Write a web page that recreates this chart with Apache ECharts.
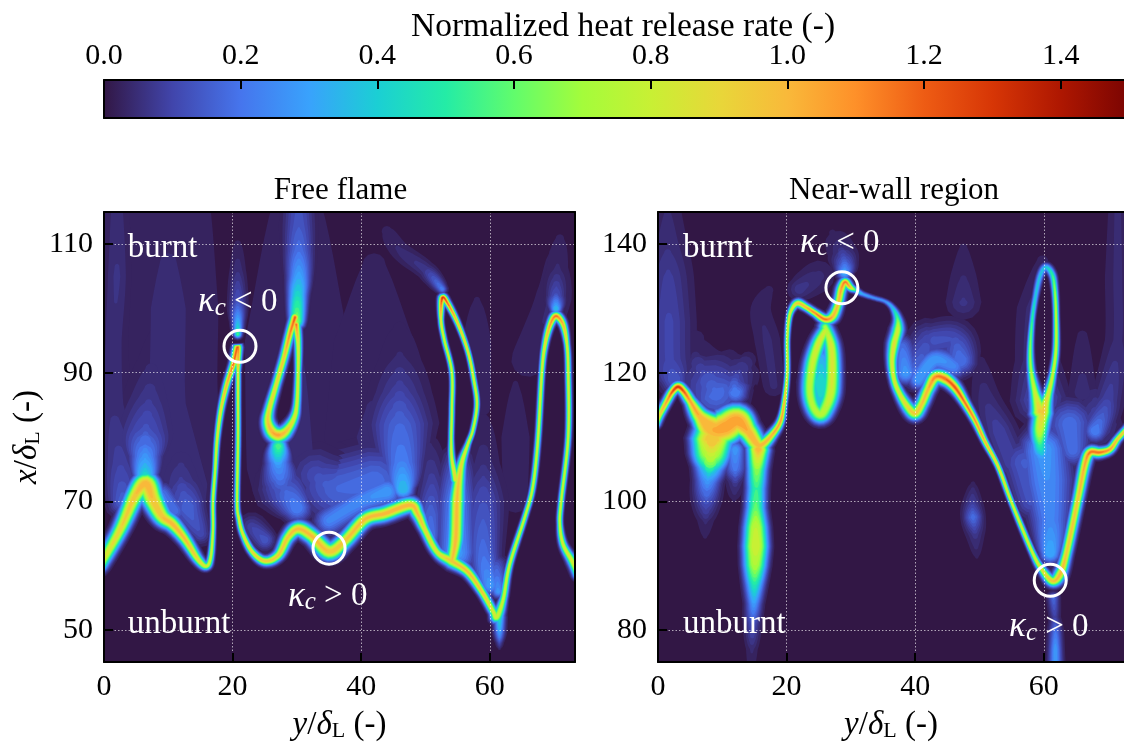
<!DOCTYPE html>
<html><head><meta charset="utf-8">
<style>html,body{margin:0;padding:0;background:#fff}#c{width:1124px;height:742px}</style>
<script src="https://cdn.jsdelivr.net/npm/echarts@6/dist/echarts.min.js"></script>
</head><body><div id="c"></div>
<script>
// Colour scale
const scaleValues=[0,.1,.2,.3,.4,.5,.6,.7,.8,.9,1,1.1,1.2,1.3,1.4,1.5];
const scaleColors=['#321745','#4145ab','#4675ed','#39a2fc','#1bcfd4','#24eca6','#61fc6c','#a4fc3b','#c8f034','#e8d739','#f9b93a','#fe9029','#ee5c14','#d73606','#ae1701','#7a0402'];
const contourLevels=[.025,.045,.065,.085,.105,.13,.155,.18,.21,.24,.27,.3,.34,.38,.42,.46,.5,.55,.6,.65,.7,.75,.8,.85,.9,.95,1,1.05,1.1,1.15,1.2,1.25,1.3,1.35,1.4];
const colorbarTicks=[.2,.4,.6,.8,1,1.2,1.4];
const colorbarLabels=[0,.2,.4,.6,.8,1,1.2,1.4];
const ticksX=[20,40,60], labelsX=[0,20,40,60];
const freeTicksY=[50,70,90,110], wallTicksY=[80,100,120,140];

// Ridges of heat release: [y, x, heat release, flame thickness]  (all in axis units)
const freeMain=[[-.6,60,.85,.55],[2.5,65.6,.95,.6],[4.8,70.8,1,.7],[6.5,72.7,1.05,.85],[7.6,70.3,1,.8],[9,67.7,1,.7],[10.7,66.4,1.05,.6],[12.6,64.1,1.03,.5],[14.6,61,.95,.4],[15.9,59.9,.85,.33],[16.6,61.3,.85,.25],[16.95,65.6,.85,.2],[16.95,70,.85,.2],[17.3,75,.85,.2],[17.6,79.7,.9,.22],[18.2,84.3,.95,.25],[19.1,88.2,1.05,.28],[20.1,91.3,1.2,.3],[20.8,94,1.25,.35],[20.85,90.2,.95,.2],[20.85,85.9,.88,.2],[20.85,79.7,.85,.2],[20.7,70,.85,.2],[21,67.2,.88,.22],[21.6,64.9,.92,.25],[23,62.2,.95,.3],[25,60.7,.98,.38],[27.1,61.6,.98,.42],[28.6,64.4,1,.5],[30.2,65.7,1.02,.6],[32.3,64.6,1.02,.6],[35,62.2,1,.7],[37.5,63.9,1,.6],[40.6,67.2,1.02,.6],[43.7,68.1,1.05,.6],[47.6,69.4,1.05,.6],[48.8,68,1.02,.5],[49.9,65.6,.95,.4],[51.8,62.1,.9,.4],[54.1,60.7,1,.55],[56.6,59,1.02,.42],[58.8,55.9,1,.35],[60.5,52.9,.9,.35],[61.1,52,.85,.5],[62.1,54.8,.85,.3],[63.1,60.2,.85,.25],[65.5,67.7,.85,.22],[66.7,72.3,.85,.22],[67.5,79.7,.85,.22],[68.1,90.1,.88,.22],[68.6,94.4,.95,.25],[69.4,97.5,1.1,.3],[70.3,98.8,1.2,.38],[71.4,97.5,1.05,.3],[72,94.4,.9,.22],[72.2,90.1,.88,.22],[72.2,80,.85,.22],[71.1,70,.85,.22],[70.9,66.4,.85,.22],[71.4,63.3,.88,.3],[72.8,60.7,.88,.4],[73.7,58.6,.85,.4]];
const freeStem=[[54.1,60.7,1,.5],[54.7,64.1,1.03,.6],[54.9,70,1.02,.6],[55.2,73.4,1,.5],[55.7,76.2,.92,.35],[56.6,78.9,.88,.22],[57.4,81.2,.85,.2],[58,85.1,.88,.2],[57.5,89,.9,.2],[56.6,93.3,.95,.2],[55.1,97.5,1,.22],[53.5,100.7,1.2,.25],[52.6,101.6,1.35,.3],[52.4,98.3,.95,.2],[52.9,95.2,.88,.2],[54.1,90.1,.85,.2],[54.1,84.3,.85,.2],[54,79.7,.85,.2],[54.1,76.6,.9,.25],[54.7,73.4,.95,.4]];
const freeHairpin=[[29.7,98.6,1.25,.4],[28.9,96,1.15,.35],[28,92.4,1,.35],[26.8,88.2,.95,.35],[25.7,84.3,.95,.4],[25.5,82.4,1,.5],[26.1,80.9,1.05,.6],[27.1,80.3,1.08,.65],[28.3,80.9,1,.55],[29.5,82.8,.9,.4],[30,85.1,.88,.3],[30.2,90.2,.88,.25],[30.2,94.4,.9,.3],[29.9,97.5,1.2,.35]];
const freeTipBelow=[[61.5,52,.5,.45],[61.5,49.5,.3,.45],[61.5,48,.12,.35],[61.5,47,.02,.3]];
const freeWash=[
 [[10,118,.04,7],[10,100,.05,7],[10,85,.05,7],[12,72,.06,6]],
 [[30,118,.03,6],[30,95,.045,8],[30,75,.05,7]],
 [[42,112,.02,4],[42,95,.04,7],[42,80,.05,7]],
 [[58,104,.02,3],[58,95,.035,3],[58,85,.035,3]],
 [[64,92,.02,2.5],[64,80,.035,3],[64,70,.04,2]],
 [[70,110,.02,2.5],[70,102,.05,2.5],[66,92,.04,3]],
 [[2,118,.05,1.6],[2,105,.07,1.6],[1.5,95,.06,1.8],[1.5,85,.06,2.2],[2.5,76,.1,2.2],[3,70,.18,1.5]],
 [[6.4,74,.45,1],[6.4,77,.28,1.5],[6.5,81,.14,2.8],[7,86,.08,2.8],[7.5,92,.04,2.5],[8,98,.02,2]],
 [[12,76,.06,2.5],[12,73,.09,2.5],[13,69,.18,1.8],[15,65,.12,1.2]],
 [[9,71,.22,1.2],[11,68.5,.2,1.2]],
 [[20.8,96,.6,.4],[20.8,98,.35,.6],[20.8,101,.14,.9],[20.8,106,.06,1],[20.8,111,.02,1]],
 [[30,98,.7,.7],[30.1,102,.45,.9],[30.3,105,.32,1.1],[30.3,109,.2,1.4],[30.3,113,.15,1.6],[30.3,118,.12,1.6]],
 [[27.1,78.5,.6,.8],[27.1,76,.3,1.2],[27.5,73,.18,2]],
 [[28,72,.16,2.5],[30,69,.25,1.4]],
 [[23,66,.1,1.4],[25,64,.15,1.1]],
 [[33,74,.12,3],[36,72,.18,3.5],[42,73,.2,3.5]],
 [[35,67,.25,1.4],[40,70,.26,1.4],[44,71.5,.3,1.4]],
 [[46.5,72,.4,1],[46.3,76,.24,2],[46,82,.18,3],[46,87,.1,3],[46,92,.05,3],[46,98,.02,3]],
 [[51,64,.22,.8],[50.8,68,.18,1.4],[51,73,.1,1.6],[50.5,80,.03,1.6]],
 [[54.8,62,.3,1.8],[54.8,70,.25,1.8],[55,76,.15,1.6]],
 [[59,84,.02,2],[59,76,.06,2],[59,70,.13,2.2],[59,62,.2,1.6],[60,57,.3,1]],
 [[61.3,56,.3,.7],[61,60,.15,1.1]],
 [[70.3,100,.4,.6],[70.3,102,.14,1],[70.5,106,.05,1.5],[71,112,.02,2]],
 [[52.6,103,.25,.5],[50,106,.08,1],[46,109,.05,1.3],[44,112,.03,1.6]]
];
const wallMain=[[-.3,112.1,.9,.35],[.3,113.5,.95,.35],[1.4,115.6,1.1,.35],[2.2,117,1.25,.35],[3.1,117.8,1.35,.4],[4,117.1,1.25,.4],[5,115.6,1.1,.45],[6.5,113.2,1.05,.7],[8.6,111.2,1.05,1.2],[10.4,111.5,1.08,1.2],[12.3,112.5,1.08,1.1],[14,110.9,1.05,.8],[15.4,108.9,1.05,.7],[16.3,108.9,1.05,.55],[17.7,110.3,1.05,.4],[19,112.3,1.1,.3],[19.6,115.1,1.05,.22],[20.1,119.8,.9,.2],[20.1,125.2,.85,.2],[20.4,128.6,.88,.22],[21,130.2,.9,.28],[21.8,130.8,1,.35],[23,130.2,1.05,.3],[24.4,129.3,1.15,.3],[26,128.3,1.2,.38],[27.2,128.8,1.05,.45],[28,130.7,1,.4],[28.5,133,1.1,.4],[29.1,134.1,1.2,.35],[29.9,133.3,1.05,.3],[30.8,132.8,.5,.25],[31.9,132.2,.33,.22],[33.7,131.6,.28,.2],[35.3,131.1,.28,.2],[36.4,130.2,.38,.25],[37.2,128.6,.6,.35],[37.3,126.8,.85,.5],[36.7,124.4,.92,.5],[36.4,121.8,.9,.4],[36.7,119,.9,.35],[37.6,116.7,.9,.4],[38.9,114.6,.95,.5],[40,113.7,1,.55],[41,115.1,1,.5],[42,117.4,1.05,.5],[43.1,119.3,1.15,.55],[44.6,119.1,1.2,.55],[46.2,117.7,1.25,.45],[47.7,115.4,1.2,.35],[49.3,112.6,1.12,.3],[50.9,109.2,1.05,.25],[52.9,105.4,.95,.22],[55,99.8,.88,.22],[58.2,92.1,.88,.25],[59.7,89.4,.92,.32],[61.3,87.6,1,.45],[62.5,88.6,1.05,.5],[63.5,91.8,1,.42],[65.3,100.3,1,.42],[66.4,105.8,1.08,.45],[67.2,107.6,1.2,.45],[68.7,107.6,1.2,.4],[70.3,108.1,1.1,.35],[71.5,109.7,1,.3],[73.1,111.5,.95,.3]];
const wallLeftLobe=[[8.4,109.5,1,1.4],[8.2,107,.75,1.3],[8,105,.45,1.1],[7.7,103,.28,1],[7.5,100,.14,1.1],[7.4,97,.05,1],[7.3,94,.02,.8]];
const wallRightLobe=[[15.6,108,1.05,.8],[15.4,105,.7,.75],[15.3,102,.55,.75],[15.2,99,.62,.75],[15.2,96,.8,.85],[15.2,93,.85,.9],[15.1,90,.75,.85],[15,87,.5,.75],[14.9,84,.3,.65],[14.7,81,.14,.7],[14.6,77,.05,.7],[14.5,74,.03,.7]];
const wallBetweenLobes=[[12,108,.3,.8],[12,105,.22,.9],[12,103,.08,.9],[11.8,100,.02,.8]];
const wallRingA=[[26,127.1,.75,.55],[26.9,124.4,.88,.6],[27.1,121.3,.88,.65],[26.9,117.1,.85,.7],[26.1,114.6,.8,.7],[25.2,113.5,.78,.7],[24.1,114.8,.78,.65],[23.6,117.4,.78,.65],[24,121.3,.82,.65],[24.9,124.4,.88,.6],[26,126.5,.85,.55]];
const wallRingACore=[[25.3,122,.35,1],[25.3,118.5,.45,1.3],[25.3,115,.4,1]];
const wallRingB=[[59.4,114,.98,.75],[58.6,117.1,.85,.45],[58,120.5,.75,.3],[57.9,124,.7,.25],[58.2,128.3,.55,.22],[58.7,131.8,.42,.25],[59.4,135,.4,.3],[60.3,136.4,.4,.35],[61.3,135.3,.55,.3],[61.7,133,.7,.25],[61.9,129.1,.82,.22],[61.9,123.7,.85,.25],[61.4,119.8,.85,.28],[60.7,116.7,.9,.4],[59.9,114,.98,.7],[59.4,111.2,.85,.7],[59.4,108.9,.55,.7],[59.7,107.3,.35,.9]];
const wallTipBelow=[[61.5,85,.2,.5],[61.7,82,.1,.5],[61.8,80,.2,.55],[61.8,77,.3,.55],[61.8,74,.3,.6]];
const wallSmallBlob=[[49,103,.02,.6],[48.9,99.5,.1,.9],[49,97.5,.2,.8],[49.3,95,.08,.9],[49.6,91,.02,.6]];
const wallWash=[
 [[1.5,147,.04,1.8],[1.5,140,.06,2.5],[1.6,135,.09,2.5],[1.7,128,.11,2.5],[1.8,122,.11,2.5],[2.5,119,.16,1.5]],
 [[6,126,.02,3.5],[6,122,.05,4],[9,117,.2,2.8]],
 [[12,117,.25,1.2],[12,119,.12,2],[14,122,.03,2.5]],
 [[18,118,.05,1.5],[17,125,.05,1.8],[16,130,.04,1.8],[18,134,.02,2]],
 [[29,135.5,.35,.7],[29,137,.18,1.1],[28.5,139,.07,1.6],[27,142,.02,2.2]],
 [[22,133,.08,1.3],[25,135,.05,2.2]],
 [[38,124,.2,1.2],[38.5,120,.3,1.1]],
 [[42,125,.12,2],[40,120,.2,1.5]],
 [[43,125,.14,1.8],[46,125,.13,2],[47,122,.22,1.5]],
 [[47.5,131,.07,2],[47.5,136,.04,2],[47.5,141,.02,1.5]],
 [[40.5,119,.3,1],[43,122,.3,1.1],[46,121,.25,1.2]],
 [[60,139,.02,1.5],[59,130,.06,2.5],[59,122,.07,2.5],[59.5,116,.15,2.5]],
 [[60,108,.3,2.2],[60.5,103,.27,2.4],[61,97,.25,1.9],[61,92,.35,1]],
 [[57,106,.16,2.4],[58,100,.14,1.8]],
 [[64,112,.2,2.4],[64.5,108,.2,1.6]],
 [[68,112,.12,2.4],[68,116,.06,2.2]],
 [[55,106,.1,2],[53,111,.1,1.8],[51,116,.06,1.8],[50,123,.02,1.5]],
 [[71.5,147,.05,1.2],[71.5,135,.05,1.8],[71.5,125,.05,1.8],[70,116,.1,1.6],[68,111,.25,1.1]],
 [[66,128,.02,1.5],[66,117,.06,1.8]]
];
// Field layers: wash only exists on the burnt side of the front (outside loop interiors)
const freeField={wash:freeWash,front:freeMain,frontClose:[[73.7,122],[-.6,122]],holes:[freeStem,freeHairpin],flames:[freeMain,freeStem,freeHairpin,freeTipBelow]};
const wallField={wash:wallWash,front:wallMain,frontClose:[[73.1,152],[-.3,152]],holes:[wallRingB.slice(0,15)],flames:[wallLeftLobe,wallRightLobe,wallBetweenLobes,wallSmallBlob,wallTipBelow,wallRingACore,wallRingA,wallRingB,wallMain]};

// Annotations
const freeMarks=[[21.15,94.1],[35,62.7]], wallMarks=[[28.6,133.2],[61,87.7]];
const freeNotes=[[3.7,109.4,'burnt'],[3.7,50.9,'unburnt'],[14.6,101,'neg'],[28.6,55.2,'pos']];
const wallNotes=[[3.9,139.4,'burnt'],[3.9,80.9,'unburnt'],[22.1,140.2,'neg'],[54.6,80.4,'pos']];

const FONT='"Liberation Serif",serif', FS=30, NS=33, FLAME_SPREAD=1.2;
function rgb(h){return [1,3,5].map(i=>parseInt(h.substr(i,2),16));}
function colorAt(v){
  for(let i=1;i<scaleValues.length;i++) if(v<=scaleValues[i]){
    const t=(v-scaleValues[i-1])/(scaleValues[i]-scaleValues[i-1]),a=rgb(scaleColors[i-1]),b=rgb(scaleColors[i]);
    return 'rgb('+a.map((c,k)=>Math.round(c+(b[k]-c)*t)).join(',')+')';
  }
  return scaleColors[scaleColors.length-1];
}
function halfWidth(p,l,s,u){
  if(p<=l) return 0;
  const t=Math.max(0,Math.min(1,(s-.5)/.5))*Math.min(1,p/.6), e=.58-.25*t, k=1.33+.42*t;
  return s*u*k*Math.pow(Math.log(p/l),e);
}
// pixel-space smooth path through one ridge (drawing only, like a smoothed line)
function smoothRidge(r,api){
  const P=r.map(d=>{const c=api.coord([d[0],d[1]]);return [c[0],c[1],d[2],d[3]];});
  const out=[],N=8;
  for(let i=0;i<P.length-1;i++){
    const p0=P[Math.max(0,i-1)],p1=P[i],p2=P[i+1],p3=P[Math.min(P.length-1,i+2)];
    for(let j=0;j<N;j++){
      const t=j/N,t2=t*t,t3=t2*t;
      const f=k=>.5*(2*p1[k]+(p2[k]-p0[k])*t+(2*p0[k]-5*p1[k]+4*p2[k]-p3[k])*t2+(3*p1[k]-p0[k]-3*p2[k]+p3[k])*t3);
      out.push([f(0),f(1),p1[2]+(p2[2]-p1[2])*t,p1[3]+(p2[3]-p1[3])*t]);
    }
  }
  const L=P[P.length-1];out.push([L[0],L[1],L[2],L[3]]);
  return out;
}
function bandPolygon(run,l,u){
  const n=run.length,left=[],right=[];
  let startCap=null,endCap=null;
  for(let i=0;i<n;i++){
    const a=run[Math.max(0,i-1)],b=run[Math.min(n-1,i+1)];
    let dx=b[0]-a[0],dy=b[1]-a[1];const d=Math.hypot(dx,dy)||1;dx/=d;dy/=d;
    const h=halfWidth(run[i][2],l,run[i][3],u);
    left.push([run[i][0]-dy*h,run[i][1]+dx*h]);
    right.push([run[i][0]+dy*h,run[i][1]-dx*h]);
    if(i===0)startCap=[run[i][0],run[i][1],dx,dy,h];
    if(i===n-1)endCap=[run[i][0],run[i][1],dx,dy,h];
  }
  const arc=(c,sign)=>{const pts=[];for(let k=1;k<6;k++){const t=k/6*Math.PI;const ca=Math.cos(t),sa=Math.sin(t);
      const nx=-c[3],ny=c[2];
      pts.push([c[0]+c[4]*(nx*ca+sign*c[2]*sa),c[1]+c[4]*(ny*ca+sign*c[3]*sa)]);}return pts;};
  return left.concat(arc(endCap,1),right.reverse(),arc(startCap,-1).reverse());
}
function levelPolys(paths,l,u,fill){
  const out=[];
  paths.forEach(path=>{
    let run=[];
    for(const q of path){
      if(q[2]>l) run.push(q);
      else{ if(run.length>1) out.push({type:'polygon',shape:{points:bandPolygon(run,l,u)},style:{fill}}); run=[]; }
    }
    if(run.length>1) out.push({type:'polygon',shape:{points:bandPolygon(run,l,u)},style:{fill}});
  });
  return out;
}
function area(pts){let a=0;for(let i=0;i<pts.length;i++){const p=pts[i],q=pts[(i+1)%pts.length];a+=p[0]*q[1]-q[0]*p[1];}return a;}
function burntOutline(field,api){
  const xy=r=>smoothRidge(r,api).map(q=>[q[0],q[1]]);
  const outer=xy(field.front).concat(field.frontClose.map(c=>api.coord(c)));
  let pts=outer.slice();pts.push(outer[0]);
  const sign=Math.sign(area(outer));
  field.holes.forEach(h=>{
    let hole=xy(h);if(Math.sign(area(hole))===sign) hole=hole.reverse();
    pts=pts.concat(hole,[hole[0],outer[0]]);
  });
  return pts;
}
function fieldItem(field){
  return function(params,api){
    if(params.dataIndex!==0) return null;
    const u=api.size([1,1])[0];
    const wash=field.wash.map(r=>smoothRidge(r,api)),flames=field.flames.map(r=>smoothRidge(r,api));
    const clip=burntOutline(field,api),children=[];
    contourLevels.forEach(l=>{
      const fill=colorAt(l);
      levelPolys(wash,l,u,fill).forEach(w=>{w.clipPath={type:'polygon',shape:{points:clip}};children.push(w);});
      levelPolys(flames,l,u*FLAME_SPREAD,fill).forEach(f=>children.push(f));
    });
    return {type:'group',children};
  };
}
const kappa=(s)=>'{k|κ}{c|c}{o| '+s+' 0}';
const noteRich={k:{fontFamily:FONT,fontStyle:'italic',fontSize:35,color:'#fff'},c:{fontFamily:FONT,fontStyle:'italic',fontSize:25,color:'#fff',padding:[12,0,0,0]},o:{fontFamily:FONT,fontSize:33,color:'#fff'}};
function noteSeries(xi,yi,notes){
  return {type:'scatter',xAxisIndex:xi,yAxisIndex:yi,z:40,symbolSize:0,silent:true,itemStyle:{opacity:1},
    data:notes.map(n=>({value:[n[0],n[1]],note:n[2]})),
    label:{show:true,position:'right',distance:0,fontFamily:FONT,fontSize:NS,color:'#fff',opacity:1,rich:noteRich,
      formatter:p=>{const t=p.data.note;return t==='neg'?kappa('<'):t==='pos'?kappa('>'):t;}}};
}
function markSeries(xi,yi,marks){
  return {type:'scatter',xAxisIndex:xi,yAxisIndex:yi,z:41,symbol:'circle',symbolSize:32,silent:true,data:marks,
    itemStyle:{color:'rgba(0,0,0,0)',borderColor:'#fff',borderWidth:3,opacity:1}};
}
function fieldSeries(xi,yi,field){
  const rows=[];field.wash.concat(field.flames).forEach((r,i)=>r.forEach(d=>rows.push([d[0],d[1],d[2],d[3],i])));
  return {type:'custom',xAxisIndex:xi,yAxisIndex:yi,clip:true,silent:true,z:2,renderItem:fieldItem(field),
    encode:{x:0,y:1},data:rows};
}
const axisName={fontFamily:FONT,fontSize:NS,color:'#000',rich:{
  i:{fontFamily:FONT,fontStyle:'italic',fontSize:NS,color:'#000'},
  n:{fontFamily:FONT,fontSize:NS,color:'#000'},
  s:{fontFamily:FONT,fontSize:22,color:'#000',padding:[11,0,0,0]}}};
const frame={show:true,onZero:false,lineStyle:{color:'#000',width:2}};
const grid={show:true,lineStyle:{color:'rgba(255,255,255,.62)',type:[1.5,2],width:1}};
const tick=(vals)=>({show:true,inside:true,length:9,customValues:vals,lineStyle:{color:'#000',width:2}});
const lab={fontFamily:FONT,fontSize:FS,color:'#000',margin:11};
function xBottom(gi,max,name){return {gridIndex:gi,type:'value',position:'bottom',min:0,max,z:10,
  axisLine:frame,axisTick:tick(ticksX),splitLine:grid,
  axisLabel:{...lab,margin:10,customValues:labelsX,showMinLabel:true},
  name:'{i|y}{n|/}{i|δ}{s|L}{n| (-)}',nameLocation:'middle',nameGap:47,nameTextStyle:axisName};}
function xTop(gi,max){return {gridIndex:gi,type:'value',position:'top',min:0,max,z:10,axisLine:frame,axisTick:{show:false},axisLabel:{show:false},splitLine:{show:false}};}
function yLeft(gi,min,max,ticks,named){return {gridIndex:gi,type:'value',position:'left',min,max,z:10,
  axisLine:frame,axisTick:tick(ticks),splitLine:grid,axisLabel:{...lab,customValues:ticks},
  ...(named?{name:'{i|x}{n|/}{i|δ}{s|L}{n| (-)}',nameLocation:'middle',nameRotate:90,nameGap:60,nameTextStyle:axisName}:{})};}
function yRight(gi,min,max,show){return {gridIndex:gi,type:'value',position:'right',min,max,z:10,axisLine:{...frame,show},axisTick:{show:false},axisLabel:{show:false},splitLine:{show:false}};}
const titleStyle={fontFamily:FONT,fontSize:31,fontWeight:'normal',color:'#000'};
const X1=73.25,X2=72.47,CB=1.4926;
const option={
  animation:false,backgroundColor:'#fff',tooltip:{show:false},
  title:[
    {text:'Normalized heat release rate (-)',left:618,top:5,textAlign:'center',textStyle:{...titleStyle,fontSize:33.5}},
    {text:'Free flame',left:335.5,top:170,textAlign:'center',textStyle:titleStyle},
    {text:'Near-wall region',left:889,top:170,textAlign:'center',textStyle:titleStyle}
  ],
  grid:[
    {left:104,right:0,top:80,height:38,outerBoundsMode:'none'},
    {left:104,width:471,top:212,height:450,show:true,backgroundColor:scaleColors[0],borderWidth:0,outerBoundsMode:'none'},
    {left:658,width:466,top:212,height:450,show:true,backgroundColor:scaleColors[0],borderWidth:0,outerBoundsMode:'none'}
  ],
  xAxis:[
    {gridIndex:0,type:'value',position:'top',min:0,max:CB,z:10,axisLine:frame,axisTick:tick(colorbarTicks),splitLine:{show:false},
      axisLabel:{...lab,margin:9,customValues:colorbarLabels,formatter:v=>v.toFixed(1)}},
    {gridIndex:0,type:'value',position:'bottom',min:0,max:CB,z:10,axisLine:frame,axisTick:{show:false},axisLabel:{show:false},splitLine:{show:false}},
    xBottom(1,X1),xTop(1,X1),xBottom(2,X2),xTop(2,X2)
  ],
  yAxis:[
    {gridIndex:0,type:'value',min:0,max:1,z:10,axisLine:frame,axisTick:{show:false},axisLabel:{show:false},splitLine:{show:false}},
    yLeft(1,45,115,freeTicksY,true),yRight(1,45,115,true),
    yLeft(2,75,145,wallTicksY,false),yRight(2,75,145,false)
  ],
  series:[
    {type:'custom',xAxisIndex:0,yAxisIndex:0,clip:true,silent:true,encode:{x:0},
      data:[[scaleValues[0],scaleValues[scaleValues.length-1]]],
      renderItem:(p,api)=>{
        const a=api.coord([api.value(0),0]),b=api.coord([api.value(1),1]);
        return {type:'rect',shape:{x:a[0],y:b[1],width:b[0]-a[0],height:a[1]-b[1]},
          style:{fill:new echarts.graphic.LinearGradient(0,0,1,0,scaleValues.map((v,i)=>({offset:v/1.5,color:scaleColors[i]})))}};
      }},
    fieldSeries(2,1,freeField),
    fieldSeries(4,3,wallField),
    markSeries(2,1,freeMarks),markSeries(4,3,wallMarks),
    noteSeries(2,1,freeNotes),noteSeries(4,3,wallNotes)
  ]
};
const chart=echarts.init(document.getElementById('c'),null,{renderer:'canvas'});
chart.setOption(option);
</script></body></html>
